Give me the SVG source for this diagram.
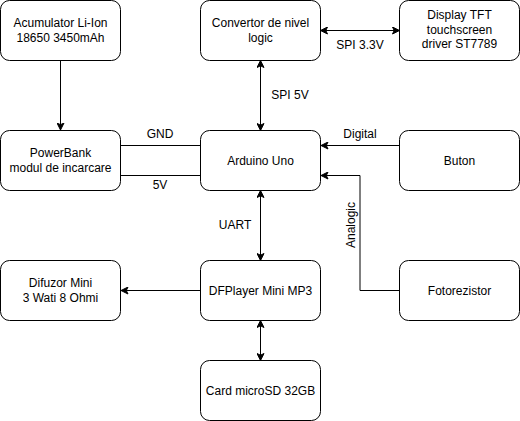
<svg xmlns="http://www.w3.org/2000/svg" width="520" height="421" viewBox="0 0 520 421">
<defs>
<style>
.box{fill:#fff;stroke:#000;stroke-width:1}
.t{font-family:"Liberation Sans",Arial,sans-serif;font-size:12px;fill:#000;text-anchor:middle}
.c{fill:none;stroke:#000;stroke-width:1}
</style>
<marker id="ae" viewBox="0 0 8 8" markerWidth="8" markerHeight="8" refX="7.5" refY="4" orient="auto" markerUnits="userSpaceOnUse">
<path d="M0.5,0.5 L7.5,4 L0.5,7.5 L2.2,4 Z" fill="#000" stroke="#000" stroke-width="1"/>
</marker>
<marker id="as" viewBox="0 0 8 8" markerWidth="8" markerHeight="8" refX="7.5" refY="4" orient="auto-start-reverse" markerUnits="userSpaceOnUse">
<path d="M0.5,0.5 L7.5,4 L0.5,7.5 L2.2,4 Z" fill="#000" stroke="#000" stroke-width="1"/>
</marker>
</defs>
<rect width="520" height="421" fill="#fff"/>
<g id="connectors">
<path class="c" d="M60.5,60.5 V130" marker-end="url(#ae)"/>
<path class="c" d="M120.5,145.5 H200.5"/>
<path class="c" d="M120.5,175.5 H200.5"/>
<path class="c" d="M320.5,30.5 H399.5" marker-start="url(#as)" marker-end="url(#as)"/>
<path class="c" d="M260.5,60.5 V130.5" marker-start="url(#as)" marker-end="url(#as)"/>
<path class="c" d="M399.5,145.5 H321" marker-end="url(#ae)"/>
<path class="c" d="M399.5,290.5 H360 V175.5 H321" marker-end="url(#ae)"/>
<path class="c" d="M260.5,190.5 V260.5" marker-start="url(#as)" marker-end="url(#as)"/>
<path class="c" d="M200.5,290.5 H121" marker-end="url(#ae)"/>
<path class="c" d="M260.5,320.5 V360.5" marker-start="url(#as)" marker-end="url(#as)"/>
<text class="t" x="160" y="138">GND</text>
<text class="t" x="160" y="189">5V</text>
<text class="t" x="360" y="49">SPI 3.3V</text>
<text class="t" x="290" y="99">SPI 5V</text>
<text class="t" x="360" y="138">Digital</text>
<text class="t" x="235" y="229">UART</text>
<text class="t" x="0" y="0" transform="translate(355,225) rotate(-90)">Analogic</text>
</g>
<g id="acumulator"><rect class="box" x="0.5" y="0.5" width="120" height="60" rx="9"/><text class="t" x="60.5" y="27">Acumulator Li-Ion</text><text class="t" x="60.5" y="42">18650 3450mAh</text></g>
<g id="convertor"><rect class="box" x="200.5" y="0.5" width="120" height="60" rx="9"/><text class="t" x="260.5" y="27">Convertor de nivel</text><text class="t" x="260.5" y="42">logic</text></g>
<g id="display"><rect class="box" x="399.5" y="0.5" width="120" height="60" rx="9"/><text class="t" x="459.5" y="19">Display TFT</text><text class="t" x="459.5" y="34">touchscreen</text><text class="t" x="459.5" y="48">driver ST7789</text></g>
<g id="powerbank"><rect class="box" x="0.5" y="130.5" width="120" height="60" rx="9"/><text class="t" x="60.5" y="157">PowerBank</text><text class="t" x="60.5" y="172">modul de incarcare</text></g>
<g id="arduino"><rect class="box" x="200.5" y="130.5" width="120" height="60" rx="9"/><text class="t" x="260.5" y="165">Arduino Uno</text></g>
<g id="buton"><rect class="box" x="399.5" y="130.5" width="120" height="60" rx="9"/><text class="t" x="459.5" y="165">Buton</text></g>
<g id="difuzor"><rect class="box" x="0.5" y="260.5" width="120" height="60" rx="9"/><text class="t" x="60.5" y="287">Difuzor Mini</text><text class="t" x="60.5" y="302">3 Wati 8 Ohmi</text></g>
<g id="dfplayer"><rect class="box" x="200.5" y="260.5" width="120" height="60" rx="9"/><text class="t" x="260.5" y="295">DFPlayer Mini MP3</text></g>
<g id="fotorezistor"><rect class="box" x="399.5" y="260.5" width="120" height="60" rx="9"/><text class="t" x="459.5" y="295">Fotorezistor</text></g>
<g id="card"><rect class="box" x="200.5" y="360.5" width="120" height="60" rx="9"/><text class="t" x="260.5" y="395">Card microSD 32GB</text></g>
</svg>
